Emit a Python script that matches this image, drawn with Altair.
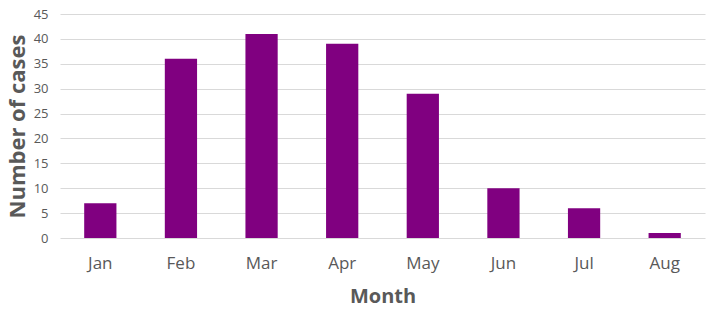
import altair as alt
import pandas as pd

months = ["Jan", "Feb", "Mar", "Apr", "May", "Jun", "Jul", "Aug"]
cases = [7, 36, 41, 39, 29, 10, 6, 1]

df = pd.DataFrame({"Month": months, "Cases": cases})

FONT = "Open Sans"
GRAY = "#595959"

chart = alt.Chart(df).mark_bar(color="#800080").encode(
    x=alt.X("Month:N", sort=months,
            scale=alt.Scale(paddingInner=0.6, paddingOuter=0.3),
            axis=alt.Axis(title="Month", labelAngle=0, domain=False, ticks=False,
                          labelFont=FONT, labelFontSize=17, labelColor=GRAY, labelPadding=17,
                          titleFont=FONT, titleFontSize=20, titleFontWeight="bold",
                          titleColor=GRAY, titlePadding=15)),
    y=alt.Y("Cases:Q", scale=alt.Scale(domain=[0, 45]),
            axis=alt.Axis(title="Number of cases", values=list(range(0, 50, 5)),
                          domain=False, ticks=False, gridColor="#d9d9d9",
                          labelFont=FONT, labelFontSize=13, labelColor=GRAY, labelPadding=12,
                          titleFont=FONT, titleFontSize=22, titleFontWeight="bold",
                          titleColor=GRAY, titlePadding=4)),
).properties(
    width=645, height=224,
    autosize=alt.AutoSizeParams(type="none"),
    padding={"left": 60, "top": 14, "right": 1, "bottom": 72},
).configure_view(stroke=None)

chart.save("out.html", embed_options={"renderer": "svg", "actions": False})
